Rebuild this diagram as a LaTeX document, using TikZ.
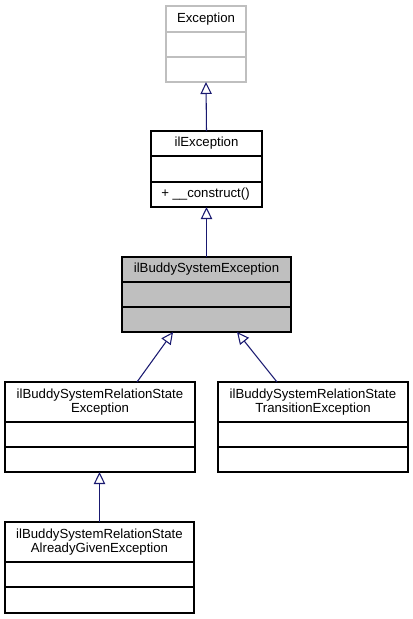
\documentclass[tikz,border=0pt]{standalone}
\usepackage{fontspec}
\setmainfont{Liberation Sans}
\usetikzlibrary{arrows.meta}
\definecolor{edgeblue}{RGB}{25,25,112}
\definecolor{boxgray}{RGB}{191,191,191}
\definecolor{framegray}{RGB}{191,191,191}
\tikzset{
  classframe/.style={draw=black, line width=0.9pt, rectangle, inner sep=0pt, outer sep=0pt, anchor=north west},
  greyframe/.style={draw=framegray},
  shadedframe/.style={fill=boxgray},
  titletext/.style={font=\fontsize{9.9}{11}\selectfont, align=center, inner sep=0pt},
  membertext/.style={font=\fontsize{9.9}{11}\selectfont, anchor=west, inner sep=0pt},
  inherit/.style={draw=edgeblue, line width=0.8pt, -{Triangle[open, length=9pt, width=8.5pt, fill=white]}},
}
% name, x1, y1, x2, y2, d1, d2, title, frame style
\newcommand\umlclass[9]{%
  \node[classframe,#9, minimum width={(#4-#2)*0.75pt}, minimum height={(#5-#3)*0.75pt}] (#1) at (#2,#3) {};
  \draw[line width=0.9pt, #9, fill=none] (#2,#6) -- (#4,#6);
  \draw[line width=0.9pt, #9, fill=none] (#2,#7) -- (#4,#7);
  \node[titletext] (#1-title) at ({(#2+#4)/2},{(#3+#6)/2}) {#8};
}
\begin{document}
\begin{tikzpicture}[x=0.75pt,y=-0.75pt]
\useasboundingbox (0,0) rectangle (413,619);
\umlclass{exc}{166}{6}{246}{82}{32}{57}{Exception}{greyframe}
\umlclass{ilexc}{151}{131}{262}{207}{156}{182}{ilException}{}
\node[membertext] (ilexc-m) at (161,194) {+ \_\_construct()};
\umlclass{bse}{122}{257}{291}{332}{282}{307}{ilBuddySystemException}{shadedframe}
\umlclass{rse}{5}{382}{195}{472}{422}{447}{ilBuddySystemRelationState\\Exception}{}
\umlclass{tse}{218}{382}{408}{472}{422}{447}{ilBuddySystemRelationState\\TransitionException}{}
\umlclass{age}{5}{522}{194}{613}{562}{587}{ilBuddySystemRelationState\\AlreadyGivenException}{}
\draw[inherit] (ilexc.north) -- (exc.south);
\draw[inherit] (bse.north) -- (ilexc.south);
\draw[inherit] ([xshift=27.75pt]rse.north) -- ([xshift=-25.1pt]bse.south);
\draw[inherit] ([xshift=-27pt]tse.north) -- ([xshift=22.9pt]bse.south);
\draw[inherit] (age.north) -- (age.north |- rse.south);
\end{tikzpicture}
\end{document}
